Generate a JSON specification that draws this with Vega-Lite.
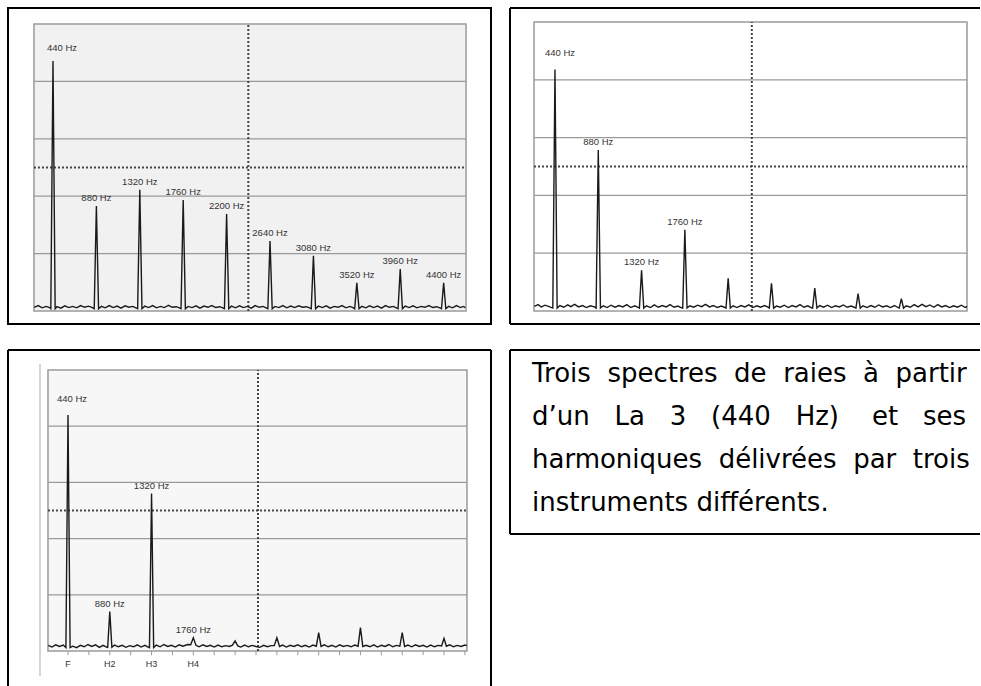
{
"$schema": "https://vega.github.io/schema/vega-lite/v6.json",
"background": "white",
"padding": {"left": 7, "top": 7, "right": 0, "bottom": 0},
"spacing": 24,
"config": {"view": {"stroke": null}},
"datasets": {
"grid": [{"g": 20}, {"g": 40}, {"g": 60}, {"g": 80}],
"s1": [{"f":250,"a":1.3},{"f":290,"a":1.9},{"f":330,"a":1.1},{"f":370,"a":1.6},{"f":405,"a":1.2},{"f":418,"a":0.8},{"f":440,"a":87.1},{"f":462,"a":0.8},{"f":480,"a":1.5},{"f":520,"a":1.0},{"f":560,"a":1.8},{"f":600,"a":1.2},{"f":640,"a":1.6},{"f":680,"a":1.1},{"f":720,"a":1.9},{"f":760,"a":1.3},{"f":800,"a":1.7},{"f":840,"a":1.2},{"f":858,"a":0.8},{"f":880,"a":36.6},{"f":902,"a":0.8},{"f":930,"a":1.6},{"f":970,"a":1.1},{"f":1010,"a":1.9},{"f":1050,"a":1.2},{"f":1090,"a":1.7},{"f":1130,"a":1.0},{"f":1170,"a":1.8},{"f":1210,"a":1.3},{"f":1250,"a":1.6},{"f":1280,"a":1.1},{"f":1298,"a":0.8},{"f":1320,"a":42.2},{"f":1342,"a":0.8},{"f":1370,"a":1.7},{"f":1410,"a":1.2},{"f":1450,"a":1.9},{"f":1490,"a":1.1},{"f":1530,"a":1.6},{"f":1570,"a":1.2},{"f":1610,"a":2.0},{"f":1650,"a":1.3},{"f":1690,"a":1.5},{"f":1720,"a":1.1},{"f":1738,"a":0.8},{"f":1760,"a":38.7},{"f":1782,"a":0.8},{"f":1810,"a":1.6},{"f":1850,"a":1.2},{"f":1890,"a":1.8},{"f":1930,"a":1.0},{"f":1970,"a":1.7},{"f":2010,"a":1.3},{"f":2050,"a":1.9},{"f":2090,"a":1.2},{"f":2130,"a":1.5},{"f":2160,"a":1.1},{"f":2178,"a":0.8},{"f":2200,"a":33.8},{"f":2222,"a":0.8},{"f":2250,"a":1.7},{"f":2290,"a":1.1},{"f":2330,"a":1.8},{"f":2370,"a":1.2},{"f":2410,"a":1.6},{"f":2450,"a":1.0},{"f":2490,"a":1.9},{"f":2530,"a":1.3},{"f":2570,"a":1.6},{"f":2600,"a":1.1},{"f":2618,"a":0.8},{"f":2640,"a":24.4},{"f":2662,"a":0.8},{"f":2690,"a":1.6},{"f":2730,"a":1.2},{"f":2770,"a":1.9},{"f":2810,"a":1.1},{"f":2850,"a":1.7},{"f":2890,"a":1.2},{"f":2930,"a":1.8},{"f":2970,"a":1.3},{"f":3010,"a":1.5},{"f":3040,"a":1.1},{"f":3058,"a":0.8},{"f":3080,"a":19.2},{"f":3102,"a":0.8},{"f":3130,"a":1.7},{"f":3170,"a":1.2},{"f":3210,"a":1.8},{"f":3250,"a":1.0},{"f":3290,"a":1.6},{"f":3330,"a":1.3},{"f":3370,"a":1.9},{"f":3410,"a":1.1},{"f":3450,"a":1.6},{"f":3480,"a":1.2},{"f":3498,"a":0.8},{"f":3520,"a":9.8},{"f":3542,"a":0.8},{"f":3570,"a":1.6},{"f":3610,"a":1.1},{"f":3650,"a":1.8},{"f":3690,"a":1.2},{"f":3730,"a":1.7},{"f":3770,"a":1.0},{"f":3810,"a":1.9},{"f":3850,"a":1.3},{"f":3890,"a":1.6},{"f":3920,"a":1.1},{"f":3938,"a":0.8},{"f":3960,"a":14.6},{"f":3982,"a":0.8},{"f":4010,"a":1.7},{"f":4050,"a":1.2},{"f":4090,"a":1.8},{"f":4130,"a":1.1},{"f":4170,"a":1.6},{"f":4210,"a":1.3},{"f":4250,"a":1.9},{"f":4290,"a":1.2},{"f":4330,"a":1.5},{"f":4360,"a":1.1},{"f":4378,"a":0.8},{"f":4400,"a":9.8},{"f":4422,"a":0.8},{"f":4450,"a":1.6},{"f":4490,"a":1.1},{"f":4530,"a":1.9},{"f":4570,"a":1.2},{"f":4600,"a":1.6},{"f":4620,"a":1.2}],
"s2": [{"f":230,"a":1.6},{"f":270,"a":2.2},{"f":300,"a":1.4},{"f":340,"a":2.0},{"f":380,"a":1.5},{"f":418,"a":1.0},{"f":440,"a":83.6},{"f":462,"a":1.0},{"f":490,"a":1.9},{"f":530,"a":1.3},{"f":570,"a":2.1},{"f":600,"a":1.5},{"f":640,"a":2.3},{"f":680,"a":1.4},{"f":720,"a":1.9},{"f":760,"a":1.2},{"f":800,"a":1.8},{"f":840,"a":1.4},{"f":858,"a":1.0},{"f":880,"a":55.7},{"f":902,"a":1.0},{"f":930,"a":1.8},{"f":970,"a":1.2},{"f":1010,"a":2.0},{"f":1050,"a":1.3},{"f":1090,"a":1.9},{"f":1130,"a":1.4},{"f":1170,"a":2.2},{"f":1210,"a":1.2},{"f":1250,"a":1.8},{"f":1280,"a":1.3},{"f":1298,"a":1.0},{"f":1320,"a":14.1},{"f":1342,"a":1.0},{"f":1370,"a":1.8},{"f":1410,"a":1.2},{"f":1450,"a":2.1},{"f":1490,"a":1.3},{"f":1530,"a":1.9},{"f":1570,"a":1.4},{"f":1610,"a":2.2},{"f":1650,"a":1.3},{"f":1690,"a":1.7},{"f":1720,"a":1.2},{"f":1738,"a":1.0},{"f":1760,"a":28.1},{"f":1782,"a":1.0},{"f":1810,"a":1.8},{"f":1850,"a":1.3},{"f":1890,"a":2.0},{"f":1930,"a":1.5},{"f":1970,"a":2.3},{"f":2010,"a":1.4},{"f":2050,"a":1.9},{"f":2090,"a":1.2},{"f":2130,"a":1.7},{"f":2160,"a":1.3},{"f":2178,"a":1.0},{"f":2200,"a":11.3},{"f":2222,"a":1.0},{"f":2250,"a":1.8},{"f":2290,"a":1.2},{"f":2330,"a":1.9},{"f":2370,"a":1.4},{"f":2410,"a":2.1},{"f":2450,"a":1.2},{"f":2490,"a":1.8},{"f":2530,"a":1.3},{"f":2570,"a":1.9},{"f":2600,"a":1.4},{"f":2618,"a":1.0},{"f":2640,"a":9.6},{"f":2662,"a":1.0},{"f":2690,"a":1.7},{"f":2730,"a":1.3},{"f":2770,"a":2.0},{"f":2810,"a":1.2},{"f":2850,"a":1.9},{"f":2890,"a":1.4},{"f":2930,"a":2.2},{"f":2970,"a":1.3},{"f":3010,"a":1.8},{"f":3040,"a":1.2},{"f":3058,"a":1.0},{"f":3080,"a":7.9},{"f":3102,"a":1.0},{"f":3130,"a":1.9},{"f":3170,"a":1.3},{"f":3210,"a":2.0},{"f":3250,"a":1.2},{"f":3290,"a":1.8},{"f":3330,"a":1.4},{"f":3370,"a":2.1},{"f":3410,"a":1.3},{"f":3450,"a":1.7},{"f":3480,"a":1.3},{"f":3498,"a":1.0},{"f":3520,"a":6.0},{"f":3542,"a":1.0},{"f":3570,"a":1.8},{"f":3610,"a":1.2},{"f":3650,"a":1.9},{"f":3690,"a":1.3},{"f":3730,"a":2.1},{"f":3770,"a":1.4},{"f":3810,"a":1.8},{"f":3850,"a":1.2},{"f":3890,"a":1.9},{"f":3920,"a":1.3},{"f":3938,"a":1.0},{"f":3960,"a":4.3},{"f":3982,"a":1.0},{"f":4010,"a":1.8},{"f":4050,"a":1.3},{"f":4090,"a":2.2},{"f":4130,"a":1.4},{"f":4170,"a":2.3},{"f":4210,"a":1.5},{"f":4250,"a":2.1},{"f":4290,"a":1.3},{"f":4330,"a":2.2},{"f":4370,"a":1.4},{"f":4410,"a":1.9},{"f":4450,"a":1.2},{"f":4490,"a":1.8},{"f":4530,"a":1.3},{"f":4570,"a":2.0},{"f":4610,"a":1.2},{"f":4627,"a":1.6}],
"s3": [{"f":232,"a":2.0},{"f":270,"a":1.4},{"f":310,"a":2.2},{"f":350,"a":1.6},{"f":390,"a":2.1},{"f":418,"a":1.2},{"f":440,"a":84.0},{"f":462,"a":1.2},{"f":490,"a":1.7},{"f":530,"a":1.2},{"f":570,"a":2.0},{"f":610,"a":1.5},{"f":650,"a":2.3},{"f":690,"a":1.6},{"f":730,"a":2.2},{"f":770,"a":1.3},{"f":810,"a":2.0},{"f":845,"a":1.4},{"f":858,"a":1.3},{"f":880,"a":14.0},{"f":902,"a":1.3},{"f":930,"a":2.1},{"f":970,"a":1.5},{"f":1010,"a":2.0},{"f":1050,"a":1.3},{"f":1090,"a":1.9},{"f":1130,"a":1.5},{"f":1170,"a":2.2},{"f":1210,"a":1.4},{"f":1250,"a":2.0},{"f":1280,"a":1.5},{"f":1298,"a":1.2},{"f":1320,"a":56.0},{"f":1342,"a":1.2},{"f":1370,"a":2.1},{"f":1410,"a":1.5},{"f":1450,"a":2.3},{"f":1490,"a":1.6},{"f":1530,"a":2.0},{"f":1570,"a":1.4},{"f":1610,"a":2.2},{"f":1650,"a":1.7},{"f":1700,"a":2.3},{"f":1732,"a":2.2},{"f":1760,"a":4.7},{"f":1788,"a":2.0},{"f":1820,"a":1.5},{"f":1860,"a":2.2},{"f":1900,"a":1.6},{"f":1940,"a":2.0},{"f":1980,"a":1.4},{"f":2020,"a":2.1},{"f":2060,"a":1.5},{"f":2100,"a":1.9},{"f":2140,"a":1.6},{"f":2172,"a":2.1},{"f":2200,"a":3.6},{"f":2228,"a":1.8},{"f":2260,"a":1.4},{"f":2300,"a":2.1},{"f":2340,"a":1.5},{"f":2380,"a":2.0},{"f":2420,"a":1.6},{"f":2460,"a":1.3},{"f":2500,"a":2.0},{"f":2540,"a":1.5},{"f":2580,"a":1.9},{"f":2612,"a":1.9},{"f":2640,"a":4.7},{"f":2668,"a":1.6},{"f":2700,"a":2.1},{"f":2740,"a":1.4},{"f":2780,"a":2.0},{"f":2820,"a":1.6},{"f":2860,"a":2.2},{"f":2900,"a":1.5},{"f":2940,"a":2.0},{"f":2980,"a":1.4},{"f":3020,"a":2.1},{"f":3055,"a":1.7},{"f":3080,"a":6.5},{"f":3105,"a":1.6},{"f":3140,"a":2.2},{"f":3180,"a":1.5},{"f":3220,"a":2.0},{"f":3260,"a":1.4},{"f":3300,"a":2.2},{"f":3340,"a":1.6},{"f":3380,"a":2.0},{"f":3420,"a":1.5},{"f":3460,"a":2.1},{"f":3495,"a":1.7},{"f":3520,"a":8.3},{"f":3545,"a":1.6},{"f":3580,"a":2.0},{"f":3620,"a":1.5},{"f":3660,"a":2.2},{"f":3700,"a":1.4},{"f":3740,"a":2.0},{"f":3780,"a":1.6},{"f":3820,"a":2.3},{"f":3860,"a":1.5},{"f":3900,"a":2.0},{"f":3935,"a":1.7},{"f":3960,"a":6.5},{"f":3985,"a":1.6},{"f":4020,"a":2.1},{"f":4060,"a":1.5},{"f":4100,"a":2.2},{"f":4140,"a":1.6},{"f":4180,"a":2.0},{"f":4220,"a":1.4},{"f":4260,"a":2.1},{"f":4300,"a":1.5},{"f":4340,"a":2.0},{"f":4375,"a":1.8},{"f":4400,"a":4.5},{"f":4425,"a":1.7},{"f":4460,"a":2.2},{"f":4500,"a":1.5},{"f":4540,"a":2.0},{"f":4580,"a":1.6},{"f":4620,"a":2.1},{"f":4640,"a":1.9}],
"ticks3": [{"f":440,"h":"F"},{"f":660,"h":""},{"f":880,"h":"H2"},{"f":1100,"h":""},{"f":1320,"h":"H3"},{"f":1540,"h":""},{"f":1760,"h":"H4"},{"f":1980,"h":""},{"f":2200,"h":""},{"f":2420,"h":""},{"f":2640,"h":""},{"f":2860,"h":""},{"f":3080,"h":""},{"f":3300,"h":""},{"f":3520,"h":""},{"f":3740,"h":""},{"f":3960,"h":""},{"f":4180,"h":""},{"f":4400,"h":""},{"f":4620,"h":""}],
"l1": [{"f":440,"a":87.1,"t":"440 Hz"},{"f":880,"a":36.6,"t":"880 Hz"},{"f":1320,"a":42.2,"t":"1320 Hz"},{"f":1760,"a":38.7,"t":"1760 Hz"},{"f":2200,"a":33.8,"t":"2200 Hz"},{"f":2640,"a":24.4,"t":"2640 Hz"},{"f":3080,"a":19.2,"t":"3080 Hz"},{"f":3520,"a":9.8,"t":"3520 Hz"},{"f":3960,"a":14.6,"t":"3960 Hz"},{"f":4400,"a":9.8,"t":"4400 Hz"}],
"l2": [{"f":440,"a":83.6,"t":"440 Hz"},{"f":880,"a":55.7,"t":"880 Hz"},{"f":1320,"a":14.1,"t":"1320 Hz"},{"f":1760,"a":28.1,"t":"1760 Hz"}],
"l3": [{"f":440,"a":84.0,"t":"440 Hz"},{"f":880,"a":14.0,"t":"880 Hz"},{"f":1320,"a":56.0,"t":"1320 Hz"},{"f":1760,"a":4.7,"t":"1760 Hz"}],
"txt": [{"n":1,"t":"Trois\u00a0\u00a0spectres\u00a0\u00a0de\u00a0\u00a0raies\u00a0\u00a0à\u00a0\u00a0partir"},{"n":2,"t":"d’un\u00a0\u00a0\u00a0La\u00a0\u00a0\u00a03\u00a0\u00a0\u00a0(440\u00a0\u00a0\u00a0Hz)\u00a0\u00a0\u00a0\u00a0et\u00a0\u00a0\u00a0ses"},{"n":3,"t":"harmoniques\u00a0\u00a0délivrées\u00a0\u00a0par\u00a0\u00a0trois"},{"n":4,"t":"instruments différents."}]
},
"vconcat": [
{"hconcat": [
{"width": 483, "height": 316,
 "layer": [
  {"data": {"values": [{}]}, "mark": {"type": "rect", "fill": "#f1f1f1", "stroke": "#9a9a9a", "strokeWidth": 1.5},
   "encoding": {"x": {"datum": 247, "axis": null}, "x2": {"datum": 4627}, "y": {"datum": 0, "axis": null}, "y2": {"datum": 100}}},
  {"data": {"name": "grid"}, "mark": {"type": "rule", "color": "#9a9a9a", "strokeWidth": 1.3},
   "encoding": {"y": {"field": "g", "type": "quantitative", "axis": null}, "x": {"datum": 247, "axis": null}, "x2": {"datum": 4627}}},
  {"data": {"values": [{}]}, "mark": {"type": "rule", "color": "#444", "strokeWidth": 2, "strokeDash": [2, 2]},
   "encoding": {"y": {"datum": 50, "axis": null}, "x": {"datum": 247, "axis": null}, "x2": {"datum": 4627}}},
  {"data": {"values": [{}]}, "mark": {"type": "rule", "color": "#444", "strokeWidth": 2, "strokeDash": [2, 2]},
   "encoding": {"x": {"datum": 2420, "axis": null}, "y": {"datum": 0, "axis": null}, "y2": {"datum": 100}}},
  {"data": {"values": [{}]}, "mark": {"type": "rect", "fillOpacity": 0, "stroke": "black", "strokeWidth": 2},
   "encoding": {"x": {"datum": -16, "axis": null}, "x2": {"datum": 4880}, "y": {"datum": -4.53, "axis": null}, "y2": {"datum": 105.57}}},
  {"data": {"name": "s1"}, "mark": {"type": "line", "color": "#1a1a1a", "strokeWidth": 1.4},
   "encoding": {"x": {"field": "f", "type": "quantitative", "scale": {"domain": [-16, 4880], "nice": false, "zero": false}, "axis": null},
                "y": {"field": "a", "type": "quantitative", "scale": {"domain": [-4.53, 105.57], "nice": false, "zero": false}, "axis": null}}},
  {"data": {"name": "l1"}, "transform": [{"filter": "datum.f == 440"}],
   "mark": {"type": "text", "font": "Liberation Sans", "fontSize": 9.5, "color": "#333", "dx": 9, "dy": -13, "baseline": "middle"},
   "encoding": {"x": {"field": "f", "type": "quantitative", "axis": null}, "y": {"field": "a", "type": "quantitative", "axis": null}, "text": {"field": "t"}}},
  {"data": {"name": "l1"}, "transform": [{"filter": "datum.f != 440"}],
   "mark": {"type": "text", "font": "Liberation Sans", "fontSize": 9.5, "color": "#333", "dy": -8, "baseline": "middle"},
   "encoding": {"x": {"field": "f", "type": "quantitative", "axis": null}, "y": {"field": "a", "type": "quantitative", "axis": null}, "text": {"field": "t"}}}
 ]},
{"width": 470, "height": 316,
 "layer": [
  {"data": {"values": [{}]}, "mark": {"type": "rect", "fill": "white", "stroke": "#9a9a9a", "strokeWidth": 1.5},
   "encoding": {"x": {"datum": 227, "axis": null}, "x2": {"datum": 4627}, "y": {"datum": 0, "axis": null}, "y2": {"datum": 100}}},
  {"data": {"name": "grid"}, "mark": {"type": "rule", "color": "#9a9a9a", "strokeWidth": 1.3},
   "encoding": {"y": {"field": "g", "type": "quantitative", "axis": null}, "x": {"datum": 227, "axis": null}, "x2": {"datum": 4627}}},
  {"data": {"values": [{}]}, "mark": {"type": "rule", "color": "#444", "strokeWidth": 2, "strokeDash": [2, 2]},
   "encoding": {"y": {"datum": 50, "axis": null}, "x": {"datum": 227, "axis": null}, "x2": {"datum": 4627}}},
  {"data": {"values": [{}]}, "mark": {"type": "rule", "color": "#444", "strokeWidth": 2, "strokeDash": [2, 2]},
   "encoding": {"x": {"datum": 2440, "axis": null}, "y": {"datum": 0, "axis": null}, "y2": {"datum": 100}}},
  {"data": {"values": [{}]}, "mark": {"type": "rule", "color": "black", "strokeWidth": 2},
   "encoding": {"x": {"datum": -17, "axis": null}, "y": {"datum": -4.5, "axis": null}, "y2": {"datum": 104.84}}},
  {"data": {"values": [{}]}, "mark": {"type": "rule", "color": "black", "strokeWidth": 2},
   "encoding": {"y": {"datum": 104.84, "axis": null}, "x": {"datum": -17, "axis": null}, "x2": {"datum": 4759}}},
  {"data": {"values": [{}]}, "mark": {"type": "rule", "color": "black", "strokeWidth": 2},
   "encoding": {"y": {"datum": -4.5, "axis": null}, "x": {"datum": -17, "axis": null}, "x2": {"datum": 4759}}},
  {"data": {"name": "s2"}, "mark": {"type": "line", "color": "#1a1a1a", "strokeWidth": 1.4},
   "encoding": {"x": {"field": "f", "type": "quantitative", "scale": {"domain": [-17, 4759], "nice": false, "zero": false}, "axis": null},
                "y": {"field": "a", "type": "quantitative", "scale": {"domain": [-4.5, 104.84], "nice": false, "zero": false}, "axis": null}}},
  {"data": {"name": "l2"}, "transform": [{"filter": "datum.f == 440"}],
   "mark": {"type": "text", "font": "Liberation Sans", "fontSize": 9.5, "color": "#333", "dx": 5, "dy": -16, "baseline": "middle"},
   "encoding": {"x": {"field": "f", "type": "quantitative", "axis": null}, "y": {"field": "a", "type": "quantitative", "axis": null}, "text": {"field": "t"}}},
  {"data": {"name": "l2"}, "transform": [{"filter": "datum.f != 440"}],
   "mark": {"type": "text", "font": "Liberation Sans", "fontSize": 9.5, "color": "#333", "dy": -8, "baseline": "middle"},
   "encoding": {"x": {"field": "f", "type": "quantitative", "axis": null}, "y": {"field": "a", "type": "quantitative", "axis": null}, "text": {"field": "t"}}}
 ]}
], "spacing": 19, "bounds": "flush"},
{"hconcat": [
{"width": 483, "height": 336,
 "layer": [
  {"data": {"values": [{}]}, "mark": {"type": "rect", "fill": "#f7f7f7", "stroke": "#9a9a9a", "strokeWidth": 1.5},
   "encoding": {"x": {"datum": 229, "axis": null}, "x2": {"datum": 4642}, "y": {"datum": 0, "axis": null}, "y2": {"datum": 100}}},
  {"data": {"name": "grid"}, "mark": {"type": "rule", "color": "#9a9a9a", "strokeWidth": 1.3},
   "encoding": {"y": {"field": "g", "type": "quantitative", "axis": null}, "x": {"datum": 229, "axis": null}, "x2": {"datum": 4642}}},
  {"data": {"values": [{}]}, "mark": {"type": "rule", "color": "#444", "strokeWidth": 2, "strokeDash": [2, 2]},
   "encoding": {"y": {"datum": 50, "axis": null}, "x": {"datum": 229, "axis": null}, "x2": {"datum": 4642}}},
  {"data": {"values": [{}]}, "mark": {"type": "rule", "color": "#444", "strokeWidth": 2, "strokeDash": [2, 2]},
   "encoding": {"x": {"datum": 2441, "axis": null}, "y": {"datum": 0, "axis": null}, "y2": {"datum": 100}}},
  {"data": {"values": [{}]}, "mark": {"type": "rule", "color": "#c8c8c8", "strokeWidth": 1.5},
   "encoding": {"x": {"datum": 145, "axis": null}, "y": {"datum": -8.9, "axis": null}, "y2": {"datum": 102.1}}},
  {"data": {"values": [{}]}, "mark": {"type": "rule", "color": "black", "strokeWidth": 2},
   "encoding": {"x": {"datum": -192, "axis": null}, "y": {"datum": -12.46, "axis": null}, "y2": {"datum": 107.1}}},
  {"data": {"values": [{}]}, "mark": {"type": "rule", "color": "black", "strokeWidth": 2},
   "encoding": {"x": {"datum": 4895, "axis": null}, "y": {"datum": -12.46, "axis": null}, "y2": {"datum": 107.1}}},
  {"data": {"values": [{}]}, "mark": {"type": "rule", "color": "black", "strokeWidth": 2},
   "encoding": {"y": {"datum": 107.1, "axis": null}, "x": {"datum": -192, "axis": null}, "x2": {"datum": 4895}}},
  {"data": {"name": "ticks3"}, "mark": {"type": "rule", "color": "#999", "strokeWidth": 1},
   "encoding": {"x": {"field": "f", "type": "quantitative", "axis": null}, "y": {"datum": 0, "axis": null}, "y2": {"datum": -1.5}}},
  {"data": {"name": "ticks3"}, "transform": [{"filter": "datum.h != ''"}],
   "mark": {"type": "text", "font": "Liberation Sans", "fontSize": 9, "color": "#333", "baseline": "middle"},
   "encoding": {"x": {"field": "f", "type": "quantitative", "axis": null}, "y": {"datum": -4.6, "axis": null}, "text": {"field": "h"}}},
  {"data": {"name": "s3"}, "mark": {"type": "line", "color": "#1a1a1a", "strokeWidth": 1.4},
   "encoding": {"x": {"field": "f", "type": "quantitative", "scale": {"domain": [-192, 4895], "nice": false, "zero": false}, "axis": null},
                "y": {"field": "a", "type": "quantitative", "scale": {"domain": [-12.46, 107.1], "nice": false, "zero": false}, "axis": null}}},
  {"data": {"name": "l3"}, "transform": [{"filter": "datum.f == 440"}],
   "mark": {"type": "text", "font": "Liberation Sans", "fontSize": 9.5, "color": "#333", "dx": 4, "dy": -16, "baseline": "middle"},
   "encoding": {"x": {"field": "f", "type": "quantitative", "axis": null}, "y": {"field": "a", "type": "quantitative", "axis": null}, "text": {"field": "t"}}},
  {"data": {"name": "l3"}, "transform": [{"filter": "datum.f != 440"}],
   "mark": {"type": "text", "font": "Liberation Sans", "fontSize": 9.5, "color": "#333", "dy": -8, "baseline": "middle"},
   "encoding": {"x": {"field": "f", "type": "quantitative", "axis": null}, "y": {"field": "a", "type": "quantitative", "axis": null}, "text": {"field": "t"}}}
 ]},
{"width": 470, "height": 184,
 "layer": [
  {"data": {"values": [{}]}, "mark": {"type": "rule", "color": "black", "strokeWidth": 2},
   "encoding": {"x": {"datum": 0, "axis": null}, "y": {"datum": 0.442, "axis": null}, "y2": {"datum": 4.721}}},
  {"data": {"values": [{}]}, "mark": {"type": "rule", "color": "black", "strokeWidth": 2},
   "encoding": {"y": {"datum": 0.442, "axis": null}, "x": {"datum": 0, "axis": null}, "x2": {"datum": 100}}},
  {"data": {"values": [{}]}, "mark": {"type": "rule", "color": "black", "strokeWidth": 2},
   "encoding": {"y": {"datum": 4.721, "axis": null}, "x": {"datum": 0, "axis": null}, "x2": {"datum": 100}}},
  {"data": {"name": "txt"}, "mark": {"type": "text", "font": "DejaVu Sans", "fontSize": 26, "color": "black", "align": "left", "baseline": "middle"},
   "encoding": {"x": {"datum": 4.68, "scale": {"domain": [0, 100], "nice": false, "zero": false}, "axis": null},
                "y": {"field": "n", "type": "quantitative", "scale": {"domain": [0.442, 4.721], "reverse": true, "nice": false, "zero": false}, "axis": null},
                "text": {"field": "t"}}}
 ]}
], "spacing": 19, "bounds": "flush"}
]
}
